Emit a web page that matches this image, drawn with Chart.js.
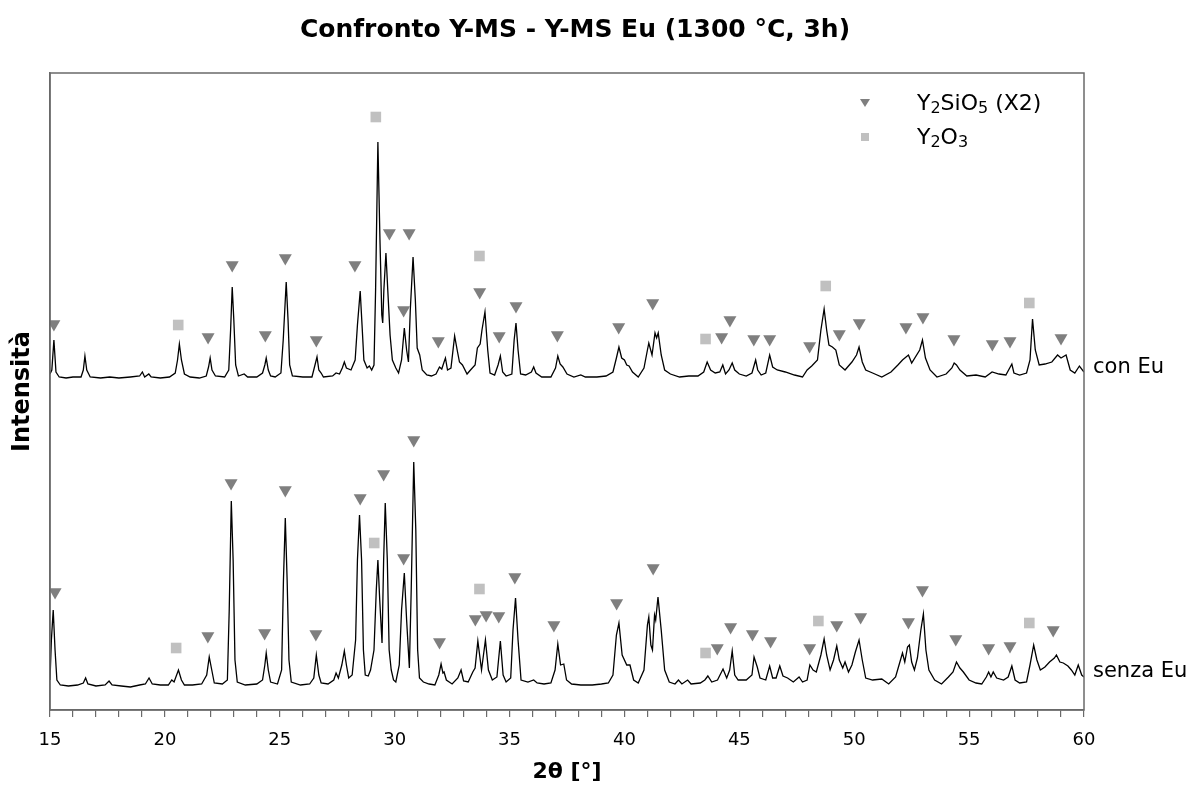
<!DOCTYPE html>
<html lang="it">
<head>
<meta charset="utf-8">
<title>Confronto Y-MS - Y-MS Eu</title>
<script src="https://cdn.jsdelivr.net/npm/chart.js@4.4.1/dist/chart.umd.min.js"></script>
<style>
  html, body { margin: 0; padding: 0; background: #fff; }
  #wrap { width: 1191px; height: 785px; }
</style>
</head>
<body>
<div id="wrap"><canvas id="xrdChart" width="1191" height="785"></canvas></div>
<script>
// 2theta [deg], intensita (u.a., con offset come nel grafico)
const conEu = [
  [15.0,336],[15.08,340],[15.17,370],[15.26,338],[15.4,333],[15.7,332],[16.0,333],[16.35,333],[16.45,340],[16.52,354],
  [16.6,340],[16.75,333],[17.2,332],[17.6,333],[18.0,332],[18.5,333],[18.9,334],[19.02,338],[19.12,333],[19.3,336],
  [19.4,333],[19.8,332],[20.2,333],[20.45,337],[20.55,350],[20.63,366],[20.72,350],[20.85,336],[21.1,333],[21.5,332],
  [21.8,334],[21.9,343],[21.97,352],[22.05,340],[22.2,334],[22.6,333],[22.78,340],[22.86,380],[22.93,423],[23.0,390],
  [23.08,345],[23.2,334],[23.45,336],[23.6,333],[24.0,333],[24.25,337],[24.35,345],[24.41,352],[24.5,340],[24.6,334],
  [24.8,333],[25.05,337],[25.15,370],[25.28,428],[25.36,390],[25.43,345],[25.55,334],[26.0,333],[26.4,333],[26.5,342],
  [26.62,353],[26.7,340],[26.8,337],[26.9,333],[27.3,334],[27.45,337],[27.6,336],[27.72,342],[27.81,348],[27.9,342],
  [28.1,340],[28.28,350],[28.38,385],[28.5,419],[28.58,385],[28.66,350],[28.8,342],[28.9,344],[29.0,340],[29.1,345],
  [29.17,420],[29.27,568],[29.36,470],[29.44,395],[29.48,387],[29.53,420],[29.62,457],[29.7,420],[29.8,375],[29.9,350],
  [30.05,342],[30.17,337],[30.3,350],[30.42,382],[30.52,360],[30.6,348],[30.68,400],[30.8,453],[30.9,410],[30.98,362],
  [31.09,355],[31.2,340],[31.4,335],[31.6,334],[31.8,336],[31.95,343],[32.05,341],[32.15,348],[32.21,352],[32.3,340],
  [32.45,342],[32.61,374],[32.72,360],[32.82,348],[32.95,345],[33.15,336],[33.3,340],[33.5,345],[33.6,362],[33.72,366],
  [33.8,380],[33.93,398],[34.05,360],[34.15,337],[34.35,335],[34.5,345],[34.6,354],[34.7,338],[34.85,334],[35.1,336],
  [35.2,370],[35.28,387],[35.37,360],[35.48,336],[35.7,335],[35.95,338],[36.05,343],[36.15,337],[36.4,333],[36.8,333],
  [37.0,342],[37.1,354],[37.2,346],[37.32,343],[37.5,336],[37.8,333],[38.1,335],[38.3,333],[38.8,333],[39.2,334],
  [39.5,338],[39.65,352],[39.76,363],[39.88,352],[40.0,350],[40.1,345],[40.2,344],[40.35,338],[40.6,333],[40.85,342],
  [41.0,360],[41.06,367],[41.2,355],[41.33,377],[41.4,372],[41.47,377],[41.6,355],[41.75,340],[42.0,336],[42.4,333],
  [42.8,334],[43.2,334],[43.45,338],[43.6,348],[43.75,340],[43.95,337],[44.15,338],[44.28,345],[44.4,336],[44.55,340],
  [44.69,347],[44.8,340],[45.0,336],[45.3,334],[45.55,337],[45.71,350],[45.8,340],[45.95,335],[46.15,337],[46.32,355],
  [46.45,343],[46.65,340],[47.0,338],[47.4,335],[47.75,333],[47.95,340],[48.15,344],[48.4,350],[48.55,380],[48.69,401],
  [48.8,380],[48.9,365],[49.05,363],[49.2,360],[49.35,345],[49.6,340],[49.9,348],[50.1,355],[50.21,363],[50.35,348],
  [50.5,340],[50.8,337],[51.2,333],[51.6,338],[51.9,345],[52.1,350],[52.36,355],[52.5,347],[52.85,360],[52.97,370],
  [53.1,352],[53.3,340],[53.6,333],[54.0,336],[54.25,342],[54.35,347],[54.45,345],[54.6,340],[54.9,334],[55.3,335],
  [55.7,333],[56.0,338],[56.3,336],[56.6,335],[56.86,346],[56.95,337],[57.2,335],[57.5,337],[57.65,350],[57.76,391],
  [57.88,360],[58.05,345],[58.3,346],[58.6,348],[58.85,355],[59.0,352],[59.22,355],[59.4,340],[59.6,337],[59.8,344],
  [60.0,338]
];

const senzaEu = [
  [15.0,30],[15.06,70],[15.14,100],[15.22,60],[15.3,30],[15.45,25],[15.8,24],[16.2,25],[16.45,27],[16.55,32],
  [16.65,26],[17.0,24],[17.4,25],[17.57,29],[17.7,25],[18.1,24],[18.5,23],[18.9,25],[19.15,26],[19.31,32],
  [19.45,26],[19.8,25],[20.15,25],[20.3,30],[20.4,28],[20.59,40],[20.72,30],[20.85,25],[21.2,25],[21.6,26],
  [21.82,35],[21.93,53],[22.04,40],[22.15,27],[22.5,26],[22.72,30],[22.8,100],[22.89,209],[22.97,150],[23.05,50],
  [23.15,28],[23.5,25],[24.0,26],[24.25,30],[24.35,45],[24.41,57],[24.5,40],[24.6,28],[24.9,26],[25.08,40],
  [25.16,130],[25.24,192],[25.32,130],[25.4,50],[25.5,28],[25.9,25],[26.3,26],[26.48,32],[26.59,55],[26.7,35],
  [26.8,27],[27.1,26],[27.35,30],[27.45,37],[27.55,32],[27.7,45],[27.81,59],[27.9,45],[28.0,32],[28.15,35],
  [28.3,70],[28.38,150],[28.47,195],[28.56,150],[28.64,60],[28.72,35],[28.85,34],[28.95,40],[29.1,60],[29.2,120],
  [29.27,150],[29.35,110],[29.45,67],[29.52,150],[29.59,207],[29.68,150],[29.76,60],[29.85,40],[29.95,30],[30.05,28],
  [30.2,45],[30.3,100],[30.42,137],[30.52,90],[30.64,42],[30.72,120],[30.83,248],[30.92,180],[31.0,60],[31.08,32],
  [31.25,28],[31.5,26],[31.75,25],[31.92,35],[32.02,46],[32.1,37],[32.15,38],[32.25,30],[32.5,26],[32.75,32],
  [32.89,40],[33.0,29],[33.2,28],[33.4,38],[33.5,42],[33.62,69],[33.78,40],[33.95,70],[34.08,40],[34.25,30],
  [34.45,33],[34.6,69],[34.72,35],[34.85,28],[35.05,32],[35.15,80],[35.26,112],[35.37,70],[35.5,30],[35.8,28],
  [36.05,30],[36.2,27],[36.5,26],[36.8,27],[36.98,40],[37.1,66],[37.22,45],[37.36,46],[37.48,30],[37.7,26],
  [38.1,25],[38.6,25],[39.0,26],[39.3,27],[39.5,35],[39.65,75],[39.76,87],[39.9,55],[40.1,45],[40.24,45],
  [40.4,30],[40.6,27],[40.85,40],[41.0,85],[41.06,93],[41.15,65],[41.22,60],[41.31,95],[41.36,90],[41.46,113],
  [41.6,80],[41.75,40],[41.95,28],[42.2,26],[42.35,30],[42.5,26],[42.75,30],[42.9,26],[43.3,27],[43.5,30],
  [43.63,34],[43.8,28],[44.05,30],[44.29,41],[44.45,32],[44.58,40],[44.69,59],[44.8,35],[44.95,30],[45.3,30],
  [45.55,35],[45.64,53],[45.78,43],[45.9,32],[46.15,30],[46.32,44],[46.45,32],[46.6,32],[46.76,44],[46.9,34],
  [47.1,32],[47.35,28],[47.6,33],[47.75,28],[47.95,30],[48.07,45],[48.21,40],[48.35,38],[48.55,55],[48.69,71],
  [48.8,55],[48.95,40],[49.1,50],[49.24,64],[49.35,50],[49.5,42],[49.6,48],[49.75,38],[49.9,45],[50.05,58],
  [50.21,70],[50.35,50],[50.5,32],[50.8,30],[51.2,31],[51.5,26],[51.8,33],[51.95,45],[52.1,57],[52.2,48],
  [52.32,63],[52.4,65],[52.5,48],[52.62,40],[52.75,52],[52.9,80],[53.01,96],[53.12,60],[53.25,40],[53.5,30],
  [53.8,26],[54.1,33],[54.3,38],[54.45,48],[54.6,42],[54.75,38],[55.0,30],[55.3,27],[55.55,26],[55.75,33],
  [55.85,38],[55.95,33],[56.05,38],[56.2,32],[56.5,30],[56.7,33],[56.86,44],[57.0,30],[57.2,27],[57.5,28],
  [57.65,45],[57.81,65],[57.95,50],[58.1,40],[58.3,43],[58.5,48],[58.71,52],[58.8,55],[58.95,48],[59.1,47],
  [59.3,44],[59.45,40],[59.6,35],[59.75,45],[59.9,35],[60.0,33]
];

// marcatori delle fasi
const y2sio5ConEu = [
  [15.17,386],[21.88,373],[22.93,445],[24.37,375],[25.24,452],[26.59,370],[28.27,445],[29.77,477],[30.39,400],[30.63,477],
  [31.9,369],[33.70,418],[34.55,374],[35.28,404],[37.08,375],[39.75,383],[41.23,407],[44.23,373],[44.59,390],[45.63,371],
  [46.32,371],[48.06,364],[49.35,376],[50.22,387],[52.25,383],[52.99,393],[54.34,371],[56.01,366],[56.78,369],[59.0,372]
];
const y2o3ConEu = [[20.58,385],[29.18,593],[33.69,454],[43.53,371],[48.76,424],[57.62,407]];

const y2sio5SenzaEu = [
  [15.22,118],[21.87,74],[22.88,227],[24.34,77],[25.24,220],[26.57,76],[28.5,212],[29.52,236],[30.39,152],[30.83,270],
  [31.95,68],[33.51,91],[33.98,95],[34.53,94],[35.23,133],[36.93,85],[39.66,107],[41.25,142],[44.04,62],[44.62,83],
  [45.57,76],[46.36,69],[48.06,62],[49.24,85],[50.28,93],[52.36,88],[52.97,120],[54.42,71],[55.85,62],[56.78,64],
  [58.66,80]
];
const y2o3SenzaEu = [[20.49,62],[29.11,167],[33.69,121],[43.53,57],[48.44,89],[57.62,87]];

const xTicks = { min: 15, max: 60, step: 1, labelEvery: 5 };
const yRange = { min: 0, max: 637 };

const FONT = "'DejaVu Sans', Verdana, sans-serif";
const TRI_COLOR = '#7f7f7f';
const SQ_COLOR = '#c0c0c0';
const AXIS_COLOR = '#6a6a6a';

const toXY = arr => arr.map(p => ({ x: p[0], y: p[1] }));

// scrive testo con pedici: parts = [["Y"],["2",true],...]
function drawRich(ctx, parts, x, y, size) {
  let cx = x;
  parts.forEach(([t, sub]) => {
    ctx.font = (sub ? Math.round(size * 0.72) : size) + 'px ' + FONT;
    ctx.fillText(t, cx, sub ? y + size * 0.22 : y);
    cx += ctx.measureText(t).width;
  });
}

const decorPlugin = {
  id: 'decor',
  afterDraw(chart) {
    const { ctx, chartArea: a, scales } = chart;
    ctx.save();

    // cornice
    ctx.strokeStyle = AXIS_COLOR;
    ctx.lineWidth = 1.5;
    ctx.strokeRect(a.left, a.top, a.right - a.left, a.bottom - a.top);

    // etichette dei campioni
    ctx.fillStyle = '#000';
    ctx.textAlign = 'left';
    ctx.textBaseline = 'middle';
    ctx.font = '21px ' + FONT;
    const lastUp = conEu[conEu.length - 1][1];
    const lastLo = senzaEu[senzaEu.length - 1][1];
    ctx.fillText('con Eu', a.right + 9, scales.y.getPixelForValue(lastUp) - 4);
    ctx.fillText('senza Eu', a.right + 9, scales.y.getPixelForValue(lastLo) - 5);

    // legenda
    const lx = a.right - 219, ly = a.top + 30, tx = a.right - 167;
    ctx.fillStyle = TRI_COLOR;
    ctx.beginPath();
    ctx.moveTo(lx - 5, ly - 4);
    ctx.lineTo(lx + 5, ly - 4);
    ctx.lineTo(lx, ly + 4);
    ctx.closePath();
    ctx.fill();
    ctx.fillStyle = SQ_COLOR;
    ctx.fillRect(lx - 4, ly + 30, 8, 8);

    ctx.fillStyle = '#000';
    ctx.textBaseline = 'middle';
    drawRich(ctx, [['Y'], ['2', true], ['SiO'], ['5', true], [' (X2)']], tx, ly + 1, 22);
    drawRich(ctx, [['Y'], ['2', true], ['O'], ['3', true]], tx, ly + 35, 22);
    ctx.restore();
  }
};

new Chart(document.getElementById('xrdChart'), {
  type: 'line',
  data: {
    datasets: [
      { label: 'Y2SiO5 con Eu', type: 'scatter', data: toXY(y2sio5ConEu), pointStyle: 'triangle', rotation: 180,
        pointRadius: 7.5, backgroundColor: TRI_COLOR, borderWidth: 0, order: 0 },
      { label: 'Y2O3 con Eu', type: 'scatter', data: toXY(y2o3ConEu), pointStyle: 'rect',
        pointRadius: 7.5, backgroundColor: SQ_COLOR, borderWidth: 0, order: 0 },
      { label: 'Y2SiO5 senza Eu', type: 'scatter', data: toXY(y2sio5SenzaEu), pointStyle: 'triangle', rotation: 180,
        pointRadius: 7.5, backgroundColor: TRI_COLOR, borderWidth: 0, order: 0 },
      { label: 'Y2O3 senza Eu', type: 'scatter', data: toXY(y2o3SenzaEu), pointStyle: 'rect',
        pointRadius: 7.5, backgroundColor: SQ_COLOR, borderWidth: 0, order: 0 },
      { label: 'con Eu', data: toXY(conEu), borderColor: '#000', borderWidth: 1.3, pointRadius: 0, tension: 0, order: 1 },
      { label: 'senza Eu', data: toXY(senzaEu), borderColor: '#000', borderWidth: 1.3, pointRadius: 0, tension: 0, order: 1 }
    ]
  },
  options: {
    responsive: false,
    animation: false,
    layout: { padding: { left: 0, right: 41, top: 0, bottom: 0 } },
    plugins: {
      legend: { display: false },
      tooltip: { enabled: false },
      title: {
        display: true,
        text: 'Confronto Y-MS - Y-MS Eu (1300 °C, 3h)',
        color: '#000',
        font: { family: FONT, size: 25, weight: 'bold' },
        padding: { top: 15, bottom: 28 }
      }
    },
    scales: {
      x: {
        type: 'linear',
        min: xTicks.min,
        max: xTicks.max,
        afterFit: s => { s.height = 75; },
        grid: { display: true, drawOnChartArea: false, drawTicks: true, tickLength: 7, color: AXIS_COLOR, lineWidth: 1.2 },
        border: { display: true, color: AXIS_COLOR, width: 1.5 },
        ticks: {
          stepSize: xTicks.step,
          autoSkip: false,
          maxRotation: 0,
          padding: 13,
          color: '#000',
          font: { family: FONT, size: 18 },
          callback: v => (v % xTicks.labelEvery === 0 ? v : '')
        },
        title: {
          display: true,
          text: '2θ [°]',
          color: '#000',
          font: { family: FONT, size: 22, weight: 'bold' },
          padding: { top: 0, bottom: 0 }
        }
      },
      y: {
        min: yRange.min,
        max: yRange.max,
        afterFit: s => { s.width = 50; },
        grid: { display: false },
        border: { display: true, color: AXIS_COLOR, width: 1.5 },
        ticks: { display: false },
        title: {
          display: true,
          text: 'Intensità',
          color: '#000',
          font: { family: FONT, size: 24, weight: 'bold' },
          padding: { top: 8, bottom: 0 }
        }
      },
      // spazio a destra per le etichette dei campioni
      yLabels: {
        position: 'right',
        min: yRange.min,
        max: yRange.max,
        afterFit: s => { s.width = 66; },
        grid: { display: false },
        border: { display: false },
        ticks: { display: false }
      }
    }
  },
  plugins: [decorPlugin]
});
</script>
</body>
</html>
